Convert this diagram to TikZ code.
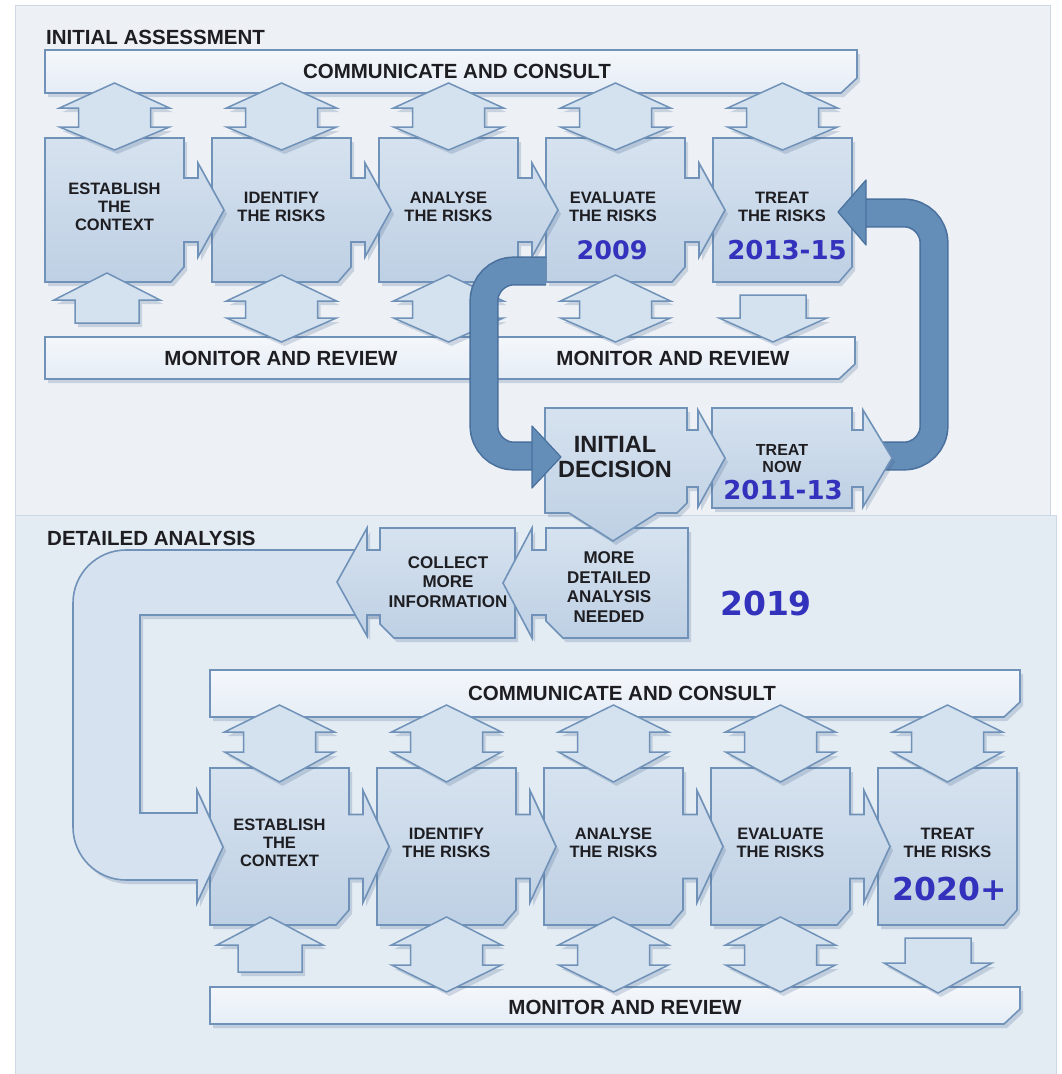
\documentclass[tikz,border=0pt]{standalone}
\usepackage{fontspec}
\setmainfont{Liberation Sans}
\newfontfamily\yearfont{DejaVu Sans}
\usetikzlibrary{shadows}

\definecolor{boxedge}{RGB}{112,146,184}
\definecolor{boxtop}{RGB}{214,226,239}
\definecolor{boxbot}{RGB}{190,208,228}
\definecolor{diafill}{RGB}{212,225,238}
\definecolor{bartop}{RGB}{244,247,251}
\definecolor{barbot}{RGB}{230,237,246}
\definecolor{bandfill}{RGB}{100,141,184}
\definecolor{bandedge}{RGB}{74,113,158}
\definecolor{upbg}{RGB}{237,241,246}
\definecolor{lowbg}{RGB}{227,235,243}
\definecolor{panedge}{RGB}{205,216,228}
\definecolor{loopfill}{RGB}{214,226,239}
\definecolor{labelc}{RGB}{30,30,34}
\definecolor{yearc}{RGB}{50,50,188}
\definecolor{shadowc}{RGB}{70,100,140}

\tikzset{
  shad/.style={drop shadow={shadow xshift=3pt, shadow yshift=-4pt, opacity=.22, fill=shadowc}},
  box/.style={draw=boxedge, line width=1.6pt, top color=boxtop, bottom color=boxbot, shad},
  dia/.style={draw=boxedge, line width=1.5pt, fill=diafill, shad},
  barsty/.style={draw=boxedge, line width=1.6pt, top color=bartop, bottom color=barbot, shad},
  band/.style={draw=bandedge, double=bandfill, double distance=26pt, line width=1.6pt, rounded corners=30pt},
  bandhead/.style={fill=bandfill, draw=bandedge, line width=1.2pt, line join=round},
  loopsty/.style={draw=boxedge, line width=1.6pt, fill=loopfill, shad},
  lbl/.style={font=\fontsize{16.5}{18}\selectfont\bfseries, text=labelc, align=center, inner sep=0pt},
  lblm/.style={font=\fontsize{17}{19.5}\selectfont\bfseries, text=labelc, align=center, inner sep=0pt},
  bigl/.style={font=\fontsize{23.5}{25}\selectfont\bfseries, text=labelc, align=center, inner sep=0pt},
  bartxt/.style={font=\fontsize{20.5}{22}\selectfont\bfseries, text=labelc, inner sep=0pt},
  yr/.style={font=\yearfont\bfseries, text=yearc, inner sep=0pt},
}

% process box with right arrow: L, T, H, arrowhead half height
\newcommand\PBox[4]{%
  \pgfmathsetmacro\pR{#1+139}%
  \pgfmathsetmacro\pB{#2+#3}%
  \pgfmathsetmacro\pM{#2+#3/2}%
  \path[box] (#1,#2) -- (\pR,#2) -- (\pR,\pM-32) -- (\pR+14,\pM-32) -- (\pR+14,\pM-#4)
    -- (\pR+40,\pM) -- (\pR+14,\pM+#4) -- (\pR+14,\pM+32) -- (\pR,\pM+32)
    -- (\pR,\pB-15) -- (\pR-13,\pB) -- (#1,\pB) -- cycle;}
% last box, no arrow
\newcommand\TBox[3]{%
  \pgfmathsetmacro\pR{#1+139}%
  \pgfmathsetmacro\pB{#2+#3}%
  \path[box] (#1,#2) -- (\pR,#2) -- (\pR,\pB-15) -- (\pR-13,\pB) -- (#1,\pB) -- cycle;}
% double vertical arrow: cx, tip1, wing1, wing2, tip2
\newcommand\DArr[5]{%
  \path[dia] (#1,#2) -- (#1+55,#3) -- (#1+36,#3) -- (#1+36,#4) -- (#1+55,#4) -- (#1,#5)
    -- (#1-55,#4) -- (#1-36,#4) -- (#1-36,#3) -- (#1-55,#3) -- cycle;}
% up arrow: cx, tip, wing, bottom
\newcommand\UArr[4]{%
  \path[dia] (#1,#2) -- (#1+53,#3) -- (#1+32,#3) -- (#1+32,#4) -- (#1-32,#4) -- (#1-32,#3) -- (#1-53,#3) -- cycle;}
% down arrow: cx, top, wing, tip
\newcommand\DnArr[4]{%
  \path[dia] (#1-33,#2) -- (#1+33,#2) -- (#1+33,#3) -- (#1+54,#3) -- (#1,#4) -- (#1-54,#3) -- (#1-33,#3) -- cycle;}
% bar: x0,y0,x1,y1
\newcommand\BarS[4]{%
  \path[barsty] (#1,#2) -- (#3,#2) -- (#3,#4-15) -- (#3-16,#4) -- (#1,#4) -- cycle;}

\begin{document}
\begin{tikzpicture}[x=1pt,y=-1pt]
\useasboundingbox (0,0) rectangle (1061,1074);
\fill[white] (0,0) rectangle (1061,1074);
% panels
\path[fill=upbg, draw=panedge, line width=1pt] (15,5) rectangle (1050,515);
\path[fill=lowbg, draw=panedge, line width=1pt] (15,515) -- (1056,515) -- (1056,1074) -- (15,1074) -- cycle;

% ===== upper row =====
\BarS{45}{50}{857}{93}
\BarS{45}{337}{855}{379}
\TBox{713}{138}{144}
\PBox{546}{138}{144}{47}
\PBox{379}{138}{144}{47}
\PBox{212}{138}{144}{47}
\PBox{45}{138}{144}{47}
\foreach \cx in {114.5,281.5,448.5,615.5,782.5} {\DArr{\cx}{83}{108}{127}{150}}
\UArr{107}{273}{300}{323}
\foreach \cx in {281.5,448.5,615.5} {\DArr{\cx}{275}{301}{318}{342}}
\DnArr{773}{295}{318}{342}

% right loop band (treat now -> treat the risks)
\coordinate (rbS) at (864,456);
\coordinate (rbE) at (864,213);
\draw[band] (rbS) -- (934,456) -- (934,213) -- (rbE);
\path[bandhead] (866,180) -- (838,212) -- (866,245) -- cycle;

% ===== lower row =====
\BarS{210}{670}{1020}{717}
\BarS{210}{987}{1020}{1024}
\TBox{878}{768}{157}
\PBox{711}{768}{157}{56}
\PBox{544}{768}{157}{56}
\PBox{377}{768}{157}{56}
\PBox{210}{768}{157}{56}
\foreach \cx in {279.5,446.5,613.5,780.5,947.5} {\DArr{\cx}{705}{732}{752}{782}}
\UArr{270}{917}{945}{972}
\foreach \cx in {446.5,613.5,780.5} {\DArr{\cx}{917}{945}{965}{992}}
\DnArr{938}{938}{963}{993}

% lower return loop
\path[loopsty] (385,550) -- (126,550) .. controls (96.7,550) and (73,573.7) .. (73,603)
  -- (73,827) .. controls (73,856.3) and (96.7,880) .. (126,880) -- (197,880) -- (197,903)
  -- (223,847) -- (197,790) -- (197,813) -- (140,813) -- (140,615) -- (385,615) -- cycle;

% collect more information
\path[box] (380,528) -- (515,528) -- (515,638) -- (394,638) -- (380,624) -- (380,615) -- (367,615)
  -- (367,636) -- (337,582) -- (367,528) -- (367,550) -- (380,550) -- cycle;
% more detailed analysis needed
\path[box] (546,528) -- (688,528) -- (688,638) -- (563,638) -- (546,621) -- (546,615) -- (532,615)
  -- (532,638) -- (503,583) -- (532,528) -- (532,550) -- (546,550) -- cycle;
% treat now
\path[box] (712,408) -- (852,408) -- (852,430) -- (863,430) -- (863,410) -- (892,458) -- (863,507)
  -- (863,487) -- (852,487) -- (852,508) -- (712,508) -- cycle;
% initial decision
\path[box] (545,408) -- (687,408) -- (687,430) -- (698,430) -- (698,410) -- (725,458) -- (698,507)
  -- (698,487) -- (687,487) -- (687,503) -- (677,513) -- (657,513) -- (613,541) -- (569,513)
  -- (545,513) -- cycle;

% left loop band (evaluate -> initial decision)
\coordinate (lbS) at (546,271);
\coordinate (lbE) at (533,456);
\draw[band] (lbS) -- (484,271) -- (484,456) -- (lbE);
\path[bandhead] (532,426) -- (561,457) -- (532,488) -- cycle;

% ===== texts =====
\node[bartxt, anchor=west] (ia) at (46,37) {INITIAL ASSESSMENT};
\node[bartxt] (cc1) at (457,71) {COMMUNICATE AND CONSULT};
\node[bartxt] (mr1) at (281,358) {MONITOR AND REVIEW};
\node[bartxt] (mr2) at (673,358) {MONITOR AND REVIEW};
\node[lbl] (e1) at (114.5,207) {ESTABLISH\\THE\\CONTEXT};
\node[lbl] (i1) at (281.5,207) {IDENTIFY\\THE RISKS};
\node[lbl] (a1) at (448.5,207) {ANALYSE\\THE RISKS};
\node[lbl] (v1) at (613,207) {EVALUATE\\THE RISKS};
\node[lbl] (t1) at (782,207) {TREAT\\THE RISKS};
\node[yr, font=\yearfont\bfseries\fontsize{25.5}{27}\selectfont] (y09) at (612,250) {2009};
\node[yr, font=\yearfont\bfseries\fontsize{26}{27}\selectfont] (y1315) at (787,250) {2013-15};
\node[bigl] (idec) at (615,457) {INITIAL\\DECISION};
\node[lbl, font=\fontsize{16}{17}\selectfont\bfseries] (tnow) at (782,459) {TREAT\\NOW};
\node[yr, font=\yearfont\bfseries\fontsize{26}{27}\selectfont] (y1113) at (783,490) {2011-13};

\node[bartxt, anchor=west] (da) at (47,538) {DETAILED ANALYSIS};
\node[lblm] (col) at (448,582) {COLLECT\\MORE\\INFORMATION};
\node[lblm] (mda) at (609,587) {MORE\\DETAILED\\ANALYSIS\\NEEDED};
\node[yr, font=\yearfont\bfseries\fontsize{33}{35}\selectfont] (y19) at (766,603) {2019};
\node[bartxt] (cc2) at (622,693) {COMMUNICATE AND CONSULT};
\node[bartxt] (mr3) at (625,1007) {MONITOR AND REVIEW};
\node[lbl] (e2) at (279.5,843) {ESTABLISH\\THE\\CONTEXT};
\node[lbl] (i2) at (446.5,843) {IDENTIFY\\THE RISKS};
\node[lbl] (a2) at (613.5,843) {ANALYSE\\THE RISKS};
\node[lbl] (v2) at (780.5,843) {EVALUATE\\THE RISKS};
\node[lbl] (t2) at (947.5,843) {TREAT\\THE RISKS};
\node[yr, font=\yearfont\bfseries\fontsize{31.5}{33}\selectfont] (y20) at (950,889) {2020+};
\end{tikzpicture}
\end{document}
